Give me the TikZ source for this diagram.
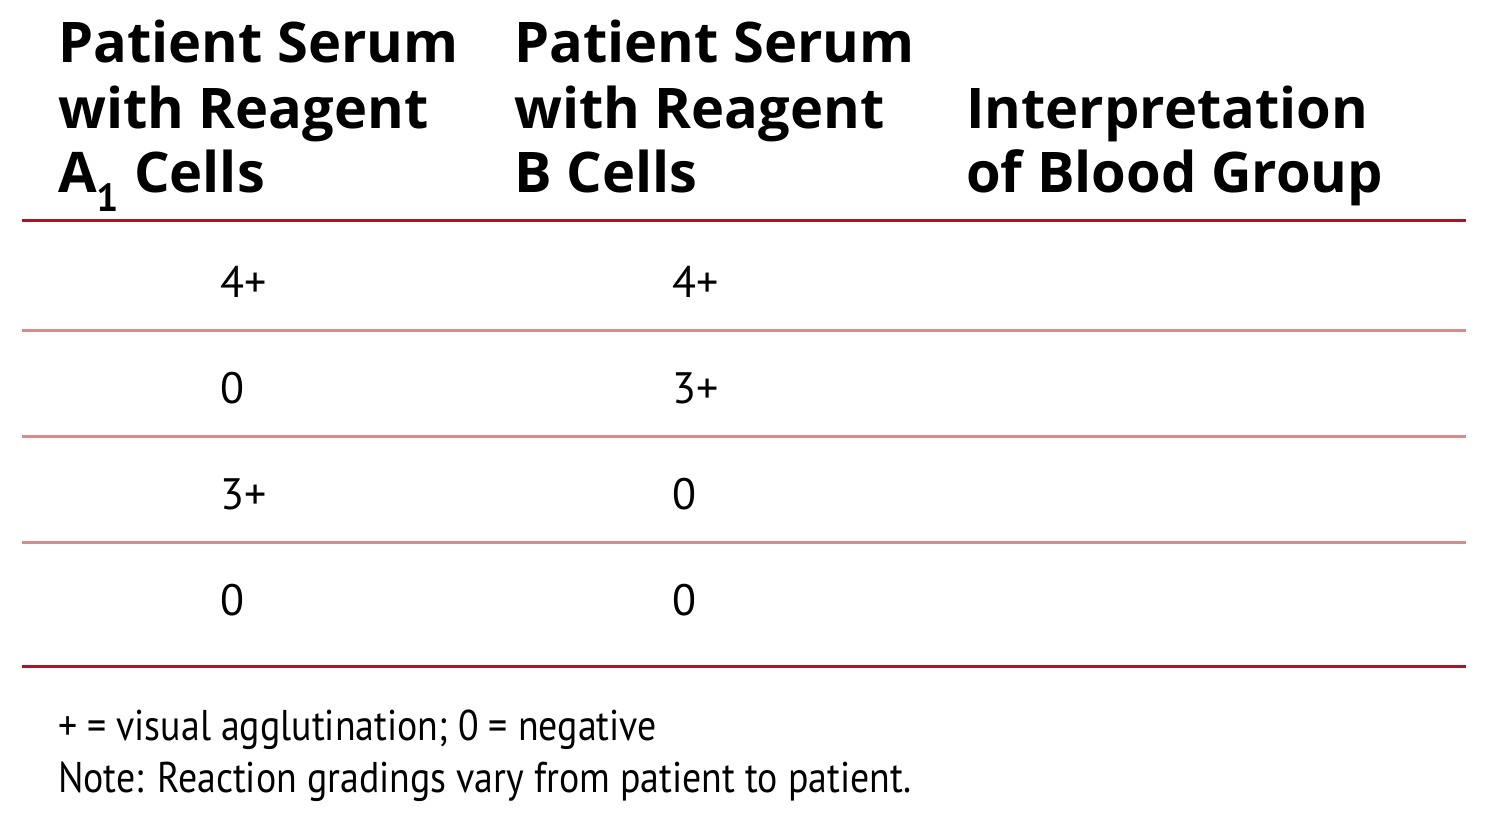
\documentclass[tikz,border=0pt]{standalone}
\usepackage{fontspec}
\setmainfont{PT Sans}
\newfontfamily\headfont{Open Sans}
\newfontfamily\notefont[FakeStretch=0.88]{PT Sans}
\definecolor{rulered}{rgb}{0.62,0.10,0.16}
\definecolor{rulepink}{rgb}{0.84,0.55,0.55}
\tikzset{
  headtext/.style={anchor=base west, inner sep=0pt, align=left,
    font=\headfont\bfseries\fontsize{56}{65}\selectfont},
  celltext/.style={anchor=base west, inner sep=0pt,
    font=\fontsize{44}{52}\selectfont},
  notetext/.style={anchor=base west, inner sep=0pt,
    font=\notefont\fontsize{43}{51}\selectfont},
  thickrule/.style={draw=rulered, line width=3pt},
  thinrule/.style={draw=rulepink, line width=3pt}
}
\begin{document}
\begin{tikzpicture}[x=1pt,y=-1pt]
\useasboundingbox (0,0) rectangle (1500,830);
% header
\node[headtext] (hA1) at (58,62) {Patient Serum};
\node[headtext] (hA2) at (58,128) {with Reagent};
\node[headtext] (hA3) at (58,192) {A$_{\mathbf 1}$ Cells};
\node[headtext] (hB1) at (514,62) {Patient Serum};
\node[headtext] (hB2) at (514,128) {with Reagent};
\node[headtext] (hB3) at (514,192) {B Cells};
\node[headtext] (hC1) at (966,128) {Interpretation};
\node[headtext] (hC2) at (966,192) {of Blood Group};
% rules
\coordinate (r0l) at (22,220); \coordinate (r0r) at (1466,220);
\coordinate (r1l) at (22,330); \coordinate (r1r) at (1466,330);
\coordinate (r2l) at (22,436); \coordinate (r2r) at (1466,436);
\coordinate (r3l) at (22,542); \coordinate (r3r) at (1466,542);
\coordinate (r4l) at (22,666); \coordinate (r4r) at (1466,666);
\draw[thickrule] (r0l) -- (r0r);
\draw[thinrule] (r1l) -- (r1r);
\draw[thinrule] (r2l) -- (r2r);
\draw[thinrule] (r3l) -- (r3r);
\draw[thickrule] (r4l) -- (r4r);
% cells
\node[celltext] (a1) at (220,297) {4+};
\node[celltext] (b1) at (672,297) {4+};
\node[celltext] (a2) at (220,403) {0};
\node[celltext] (b2) at (672,403) {3+};
\node[celltext] (a3) at (220,509) {3+};
\node[celltext] (b3) at (672,509) {0};
\node[celltext] (a4) at (220,615) {0};
\node[celltext] (b4) at (672,615) {0};
% notes
\node[notetext] (n1) at (58,740) {+ = visual agglutination; 0 = negative};
\node[notetext] (n2) at (58,792) {Note: Reaction gradings vary from patient to patient.};
\end{tikzpicture}
\end{document}
